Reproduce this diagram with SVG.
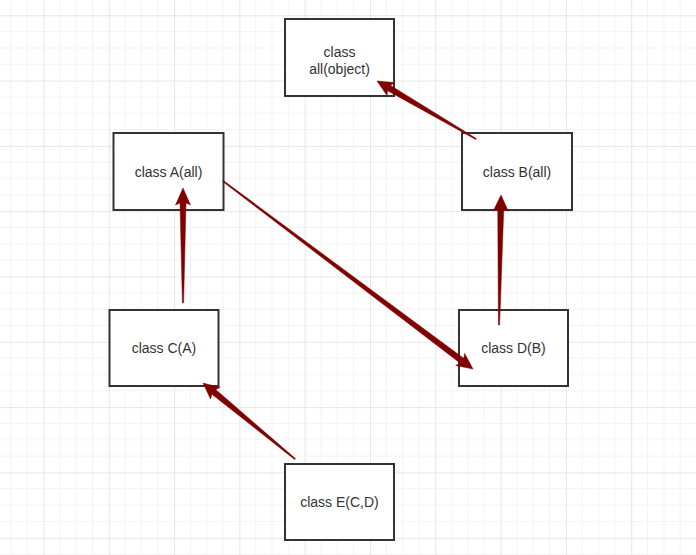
<svg xmlns="http://www.w3.org/2000/svg" width="696" height="555" viewBox="0 0 696 555">
<defs>
<pattern id="grid" patternUnits="userSpaceOnUse" x="43.5" y="15.3" width="65.3" height="65.3">
<path d="M16.33 0V65.3M32.65 0V65.3M48.98 0V65.3M0 16.33H65.3M0 32.65H65.3M0 48.98H65.3" stroke="#f3f3f3" stroke-width="1" fill="none"/>
<path d="M0.5 0V65.3M0 0.5H65.3" stroke="#e6e6e6" stroke-width="1" fill="none"/>
</pattern>
<style>
.box{fill:#ffffff;stroke:#333333;stroke-width:2}
.lbl{font-family:"Liberation Sans",Arial,sans-serif;font-size:14px;fill:#333333;text-anchor:middle}
.arr{fill:#800000;stroke:#800000;stroke-width:0.5;stroke-linejoin:round}
</style>
</defs>
<rect x="0" y="0" width="696" height="555" fill="#ffffff"/>
<rect x="0" y="0" width="696" height="555" fill="url(#grid)"/>
<g id="node-all">
<rect class="box" x="285" y="19" width="109" height="77"/>
<text class="lbl" x="339.5" y="56.5">class</text>
<text class="lbl" x="339.5" y="73.5">all(object)</text>
</g>
<g id="node-A">
<rect class="box" x="113.5" y="133" width="110" height="77"/>
<text class="lbl" x="168.5" y="176.5">class A(all)</text>
</g>
<g id="node-B">
<rect class="box" x="462" y="133" width="110" height="77"/>
<text class="lbl" x="517" y="176.5">class B(all)</text>
</g>
<g id="node-C">
<rect class="box" x="109.5" y="310" width="109" height="76"/>
<text class="lbl" x="164" y="353">class C(A)</text>
</g>
<g id="node-D">
<rect class="box" x="459" y="310" width="109" height="76"/>
<text class="lbl" x="513.5" y="353">class D(B)</text>
</g>
<g id="node-E">
<rect class="box" x="285" y="464" width="109" height="76"/>
<text class="lbl" x="339.5" y="507">class E(C,D)</text>
</g>
<g id="connectors">
<polygon class="arr" points="183,188 190.5,205 186,203 183.6,303 182.4,303 180,203 175.5,205"/>
<polygon class="arr" points="501,195 508.25,211.1 503.75,209 499.6,325 498.4,325 497.75,209 493.25,210.9"/>
<polygon class="arr" points="377,81 394.6,82.6 390.6,85.5 476.3,138.5 475.7,139.5 387.6,90.7 387,95.6"/>
<polygon class="arr" points="473,369 464.7,353.4 463.6,358.2 223.4,180.5 222.6,181.5 460,363 455.7,365.4"/>
<polygon class="arr" points="203,383 220.1,387.4 215.7,389.6 295.4,458.5 294.6,459.5 211.9,394.2 210.5,399"/>
</g>
</svg>
